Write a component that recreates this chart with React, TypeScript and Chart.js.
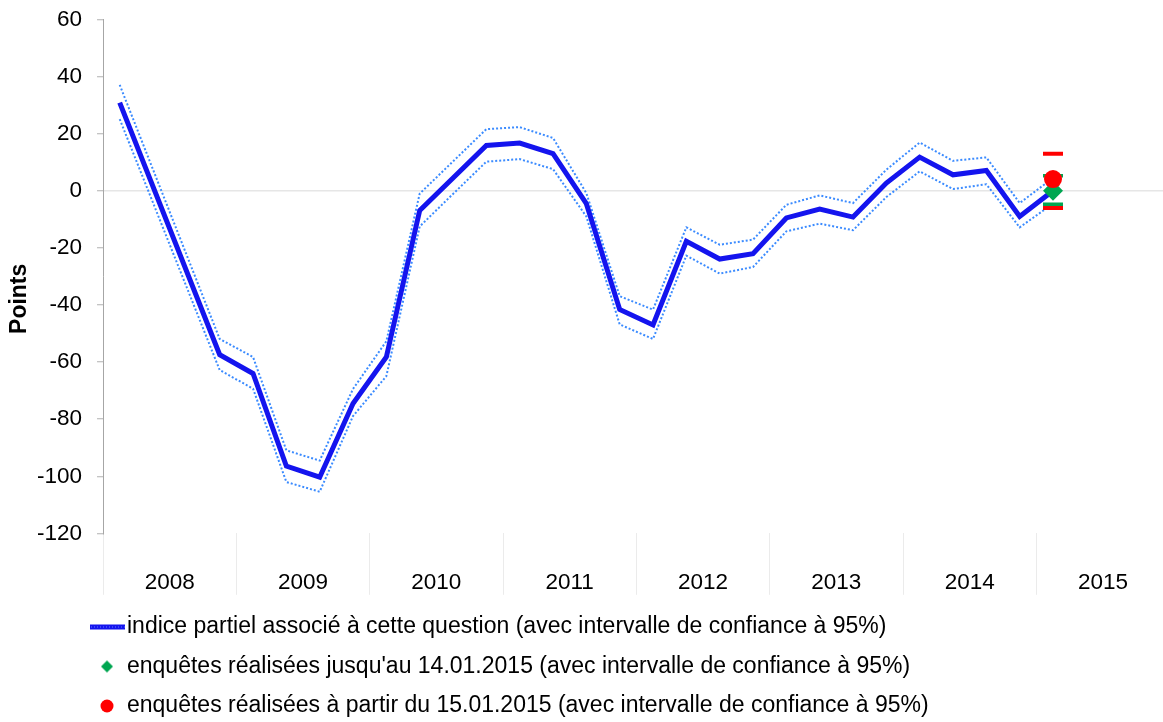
import React, { useEffect, useRef } from 'react';
import { Chart, registerables } from 'chart.js';

Chart.register(...registerables);

// ---- data ----
const years = ['2008', '2009', '2010', '2011', '2012', '2013', '2014', '2015'];
const quarterNames = ['T1', 'T2', 'T3', 'T4'];
// quarterly partial index, 2008 T1 .. 2015 T1 (2008 T2/T3 not shown)
const indexValues = [
  30.9, null, null, -57.4,
  -64.0, -96.4, -100.3, -74.5,
  -58.2, -6.9, 4.5, 15.9,
  16.7, 13.0, -4.5, -41.6,
  -47.0, -17.7, -23.9, -22.0,
  -9.5, -6.4, -9.2, 2.7,
  11.8, 5.6, 7.1, -9.0,
  0.0,
];
const upperValues = [
  37.1, null, null, -51.9,
  -58.2, -90.9, -94.5, -69.4,
  -52.7, -1.0, 10.3, 21.6,
  22.3, 18.5, -0.8, -36.9,
  -41.6, -12.8, -18.9, -17.1,
  -4.9, -1.6, -4.3, 7.4,
  16.9, 10.5, 11.7, -4.3,
  4.5,
];
const lowerValues = [
  25.1, null, null, -62.8,
  -69.3, -102.0, -105.4, -78.9,
  -64.9, -12.5, -1.1, 10.2,
  11.1, 7.6, -9.0, -46.8,
  -51.9, -22.7, -29.0, -26.7,
  -14.2, -11.5, -13.8, -2.2,
  6.8, 0.6, 2.3, -12.8,
  -4.5,
];
const surveyQuarter = 28; // 2015 T1
const beforeValue = [0.0];
const beforeCI = [5.3, -4.7];
const afterValue = [4.1];
const afterCI = [13.0, -6.0];
const yTicks = [60, 40, 20, 0, -20, -40, -60, -80, -100, -120];

const legendTexts = [
  'indice partiel associé à cette question (avec intervalle de confiance à 95%)',
  "enquêtes réalisées jusqu'au 14.01.2015 (avec intervalle de confiance à 95%)",
  'enquêtes réalisées à partir du 15.01.2015 (avec intervalle de confiance à 95%)',
];

const quarters = years.flatMap((y) => quarterNames.map((q) => `${y} ${q}`));

const BLUE = '#1414ee';
const LIGHTBLUE = '#3b8bff';
const GREEN = '#00a651';
const RED = '#ff0000';
const FONT = '"Liberation Sans", Arial, sans-serif';

function toPoints(values: (number | null)[]) {
  return values.map((v, i) => ({ x: i + 0.5, y: v }));
}

function makeLineIcon() {
  const c = document.createElement('canvas');
  c.width = 42; c.height = 6;
  const g = c.getContext('2d')!;
  g.fillStyle = BLUE;
  g.fillRect(7, 0.5, 35, 5);
  g.fillStyle = 'rgba(120,150,255,0.8)';
  for (let x = 8; x < 42; x += 3) g.fillRect(x, 2.5, 1, 1);
  return c;
}
function makeDiamondIcon() {
  const c = document.createElement('canvas');
  c.width = 20; c.height = 14;
  const g = c.getContext('2d')!;
  g.fillStyle = GREEN;
  g.beginPath();
  g.moveTo(13, 1); g.lineTo(19, 7); g.lineTo(13, 13); g.lineTo(7, 7);
  g.closePath(); g.fill();
  return c;
}
function makeCircleIcon() {
  const c = document.createElement('canvas');
  c.width = 20; c.height = 14;
  const g = c.getContext('2d')!;
  g.fillStyle = RED;
  g.beginPath(); g.arc(13, 7, 6.5, 0, Math.PI * 2); g.fill();
  return c;
}

const legendShift = {
  id: 'legendShift',
  beforeDraw(chart: any) {
    const lg = chart.legend;
    if (lg) {
      lg.left = 76;
      lg.top = lg.bottom - lg.height + 2;
    }
  },
};

export default function App() {
  const ref = useRef<HTMLCanvasElement>(null);
  useEffect(() => {
    if (!ref.current) return;
    const icons = [makeLineIcon(), makeDiamondIcon(), makeCircleIcon()];
    const sx = surveyQuarter + 0.5;
    const chart = new Chart(ref.current, {
      type: 'line',
      data: {
        datasets: [
          {
            label: legendTexts[0],
            data: toPoints(indexValues),
            borderColor: BLUE, borderWidth: 5, pointRadius: 0, tension: 0, spanGaps: true, order: 4,
          },
          {
            label: 'upper',
            data: toPoints(upperValues),
            borderColor: LIGHTBLUE, borderWidth: 2, borderDash: [2, 2], pointRadius: 0, tension: 0, spanGaps: true, order: 5,
          },
          {
            label: 'lower',
            data: toPoints(lowerValues),
            borderColor: LIGHTBLUE, borderWidth: 2, borderDash: [2, 2], pointRadius: 0, tension: 0, spanGaps: true, order: 6,
          },
          {
            label: legendTexts[1],
            data: beforeValue.map((v) => ({ x: sx, y: v })),
            showLine: false, pointStyle: 'rectRot', pointRadius: 10, pointBackgroundColor: GREEN, pointBorderWidth: 0, borderColor: GREEN, order: 2,
          },
          {
            label: 'beforeCI',
            data: beforeCI.map((v) => ({ x: sx, y: v })),
            showLine: false, pointStyle: 'line', pointRadius: 10, pointBorderWidth: 3.5, pointBorderColor: GREEN, borderColor: GREEN, order: 3,
          },
          {
            label: legendTexts[2],
            data: afterValue.map((v) => ({ x: sx, y: v })),
            showLine: false, pointStyle: 'circle', pointRadius: 9, pointBackgroundColor: RED, pointBorderWidth: 0, borderColor: RED, order: 0,
          },
          {
            label: 'afterCI',
            data: afterCI.map((v) => ({ x: sx, y: v })),
            showLine: false, pointStyle: 'line', pointRadius: 10, pointBorderWidth: 4, pointBorderColor: RED, borderColor: RED, order: 1,
          },
        ],
      },
      options: {
        animation: false,
        responsive: false,
        layout: { autoPadding: false, padding: { top: 19.5, left: 0, right: 0, bottom: -3.5 } },
        plugins: {
          tooltip: { enabled: false },
          legend: {
            position: 'bottom',
            align: 'start',
            labels: {
              font: { family: FONT, size: 23 },
              color: '#000',
              padding: 16.5,
              usePointStyle: true,
              generateLabels: () => [0, 3, 5].map((di, k) => ({
                text: legendTexts[k],
                pointStyle: icons[k],
                fillStyle: 'transparent',
                strokeStyle: 'transparent',
                lineWidth: 0,
                fontColor: '#000',
                datasetIndex: di,
                hidden: false,
              })) as any,
            },
          },
        },
        scales: {
          x: {
            type: 'linear',
            min: 0,
            max: 31.8,
            afterBuildTicks: (scale: any) => {
              const t = [];
              for (let v = 0; v <= 32; v += 2) t.push({ value: v });
              scale.ticks = t;
            },
            border: { display: false },
            grid: {
              drawOnChartArea: false,
              tickLength: 61.4,
              color: (ctx: any) => (ctx.tick && ctx.tick.value % 4 === 0 ? '#ebebeb' : 'rgba(0,0,0,0)'),
              lineWidth: 1,
            },
            ticks: {
              autoSkip: false,
              maxRotation: 0,
              crossAlign: 'center',
              padding: -12.4,
              color: '#000',
              font: { family: FONT, size: 22.5 },
              callback: (value: any) => {
                const v = Number(value);
                return v % 4 === 2 ? years[(v - 2) / 4] : '';
              },
            },
          },
          y: {
            min: -120,
            max: 60,
            afterBuildTicks: (scale: any) => {
              scale.ticks = yTicks.map((v) => ({ value: v }));
            },
            border: { display: true, color: '#a6a6a6', width: 1 },
            grid: {
              tickLength: 6,
              tickColor: '#b0b0b0',
              tickWidth: 1,
              color: (ctx: any) => (ctx.tick && ctx.tick.value === 0 ? '#e6e6e6' : 'rgba(0,0,0,0)'),
              lineWidth: 1.5,
            },
            ticks: {
              padding: 15,
              color: '#000',
              font: { family: FONT, size: 22.5, lineHeight: 0.4 },
            },
            title: {
              display: true,
              text: 'Points       ',
              color: '#000',
              padding: { top: 6.2, bottom: -11.8 },
              font: { family: FONT, size: 23, weight: 'bold' },
            },
          },
        },
      },
      plugins: [legendShift],
    } as any);
    (chart as any).$quarters = quarters;
    return () => chart.destroy();
  }, []);
  return (
    <div style={{ position: 'absolute', left: 0, top: 0, width: 1163, height: 722, background: '#fff' }}>
      <canvas ref={ref} width={1163} height={722} style={{ width: 1163, height: 722, display: 'block' }} />
    </div>
  );
}
